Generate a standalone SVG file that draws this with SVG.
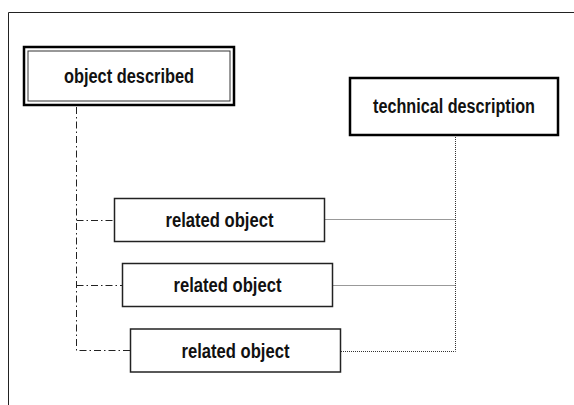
<svg xmlns="http://www.w3.org/2000/svg" width="574" height="405" viewBox="0 0 574 405">
<style>
  .t { font-family: "Liberation Sans", "DejaVu Sans", sans-serif; font-weight: bold; font-size: 20.5px; fill: #111; text-anchor: middle; }
  .box { fill: #fff; stroke: #222; stroke-width: 1.5; }
  .dd { fill: none; stroke: #222; stroke-width: 1; stroke-dasharray: 7 3 1.5 3; }
  .dot { fill: none; stroke: #333; stroke-width: 1; stroke-dasharray: 1 1; }
</style>
<rect x="0" y="0" width="574" height="405" fill="#fff"/>
<path d="M8.5,405 V12.5 H574" fill="none" stroke="#222" stroke-width="1"/>
<g id="connectors">
  <path class="dd" d="M76.5,107 V350.5 H130"/>
  <path class="dd" d="M76.5,220.5 H114"/>
  <path class="dd" d="M76.5,285.5 H122"/>
  <path class="dot" d="M455.5,137 V351.5 H341"/>
  <path class="dot" d="M455.5,219.5 H325"/>
  <path class="dot" d="M455.5,285.5 H333"/>
</g>
<g id="object-described">
  <rect x="24" y="47" width="210" height="58" fill="#fff" stroke="#000" stroke-width="2.5"/>
  <rect x="28" y="51" width="202" height="50" fill="none" stroke="#333" stroke-width="1"/>
  <text class="t" transform="translate(129,83) scale(0.8,1)">object described</text>
</g>
<g id="technical-description">
  <rect x="350" y="78" width="208" height="57" fill="#fff" stroke="#000" stroke-width="2.5"/>
  <text class="t" transform="translate(454,113) scale(0.79,1)">technical description</text>
</g>
<g id="related-object-1">
  <rect class="box" x="114.5" y="198.5" width="210" height="43"/>
  <text class="t" transform="translate(219.5,227) scale(0.81,1)">related object</text>
</g>
<g id="related-object-2">
  <rect class="box" x="122.5" y="263.5" width="210" height="43"/>
  <text class="t" transform="translate(227.5,292) scale(0.81,1)">related object</text>
</g>
<g id="related-object-3">
  <rect class="box" x="130.5" y="329" width="210" height="43"/>
  <text class="t" transform="translate(235.5,357.5) scale(0.81,1)">related object</text>
</g>
</svg>
